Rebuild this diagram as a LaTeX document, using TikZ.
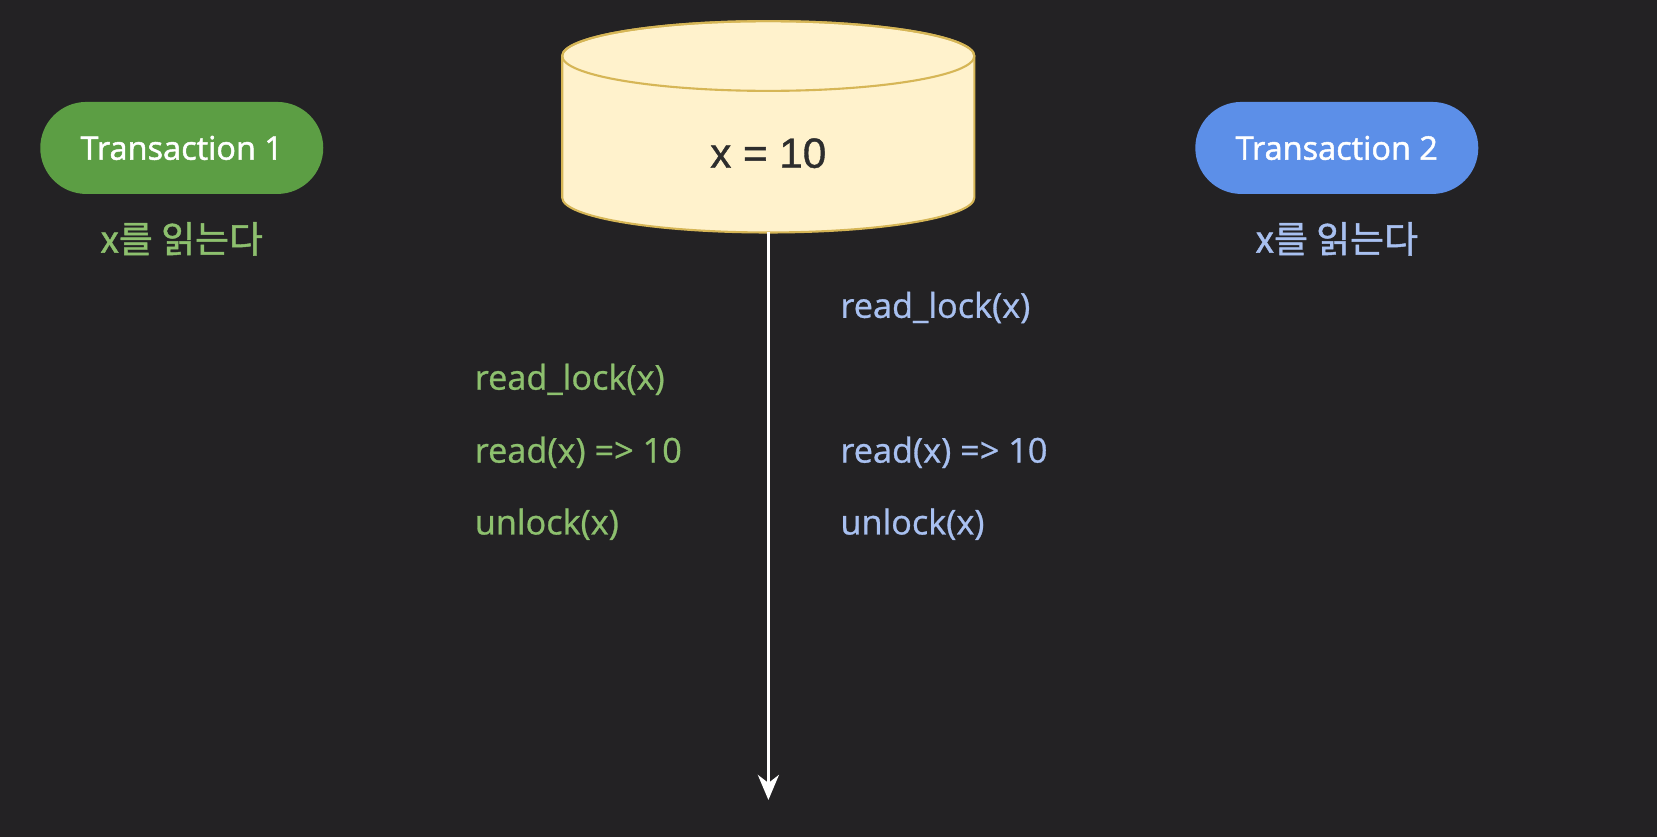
\documentclass[tikz,border=0pt]{standalone}
\usepackage{fontspec}
\setmainfont{Open Sans}
\newfontfamily\krfont{Noto Sans CJK KR}
\newfontfamily\dbfont{Liberation Sans}
\usetikzlibrary{arrows.meta,positioning}

\definecolor{bgdark}{RGB}{35,34,36}
\definecolor{txgreen}{RGB}{92,158,68}
\definecolor{txblue}{RGB}{92,143,232}
\definecolor{lightgreen}{RGB}{141,192,110}
\definecolor{lightblue}{RGB}{168,192,240}
\definecolor{dbfill}{RGB}{255,242,204}
\definecolor{dbline}{RGB}{214,182,86}
\definecolor{dbtext}{RGB}{45,45,45}

\tikzset{
  pill/.style={rounded corners=0.92cm, minimum width=5.66cm, minimum height=1.84cm,
    text=white, font=\fontsize{18.5}{22}\selectfont\addfontfeature{FakeBold=1.5}},
  korlabel/.style={font=\krfont\fontsize{21}{25}\selectfont\addfontfeature{FakeBold=1.2}},
  opgreen/.style={anchor=west, inner sep=0pt, text=lightgreen,
    font=\fontsize{19.5}{23}\selectfont\addfontfeature{FakeBold=0.8}},
  opblue/.style={anchor=west, inner sep=0pt, text=lightblue,
    font=\fontsize{19.5}{23}\selectfont\addfontfeature{FakeBold=0.8}}
}

\begin{document}
\begin{tikzpicture}[scale=1.0568]
    % background
    \fill[bgdark] (0,0) rectangle (31.36,15.84);
    \useasboundingbox (0,0) rectangle (31.36,15.84);

    % transactions
    \node[pill, fill=txgreen] (t1) at (3.44,13.04) {Transaction 1};
    \node[pill, fill=txblue] (t2) at (25.3,13.04) {Transaction 2};
    \node[korlabel, text=lightgreen] (t1read) at (3.44,11.32) {x를 읽는다};
    \node[korlabel, text=lightblue] (t2read) at (25.3,11.32) {x를 읽는다};

    % database
    \fill[dbfill, draw=dbline, line width=1.2pt]
        (10.64,14.78) -- (10.64,12.10) arc[start angle=180, end angle=360, x radius=3.9, y radius=0.66]
        -- (18.44,14.78) arc[start angle=0, end angle=180, x radius=3.9, y radius=0.66] -- cycle;
    \draw[dbline, line width=1.2pt] (14.54,14.78) ellipse[x radius=3.9, y radius=0.66];
    \node[font=\dbfont\fontsize{24}{28}\selectfont\addfontfeature{FakeBold=1}, text=dbtext] (db) at (14.54,12.94) {x = 10};
    \coordinate (dbbottom) at (14.54,11.44);
    \coordinate (timeend) at (14.54,0.70);

    % time line
    \draw[white, line width=1.8pt, -{Stealth[length=0.5cm, width=0.42cm, inset=0.16cm]}] (dbbottom) -- (timeend);

    % operations of transaction 1
    \node[opgreen] (g1) at (8.98,8.66) {read\_lock(x)};
    \node[opgreen] (g2) at (8.98,7.28) {read(x) => 10};
    \node[opgreen] (g3) at (8.98,5.92) {unlock(x)};

    % operations of transaction 2
    \node[opblue] (b1) at (15.9,10.02) {read\_lock(x)};
    \node[opblue] (b2) at (15.9,7.28) {read(x) => 10};
    \node[opblue] (b3) at (15.9,5.92) {unlock(x)};
\end{tikzpicture}
\end{document}
